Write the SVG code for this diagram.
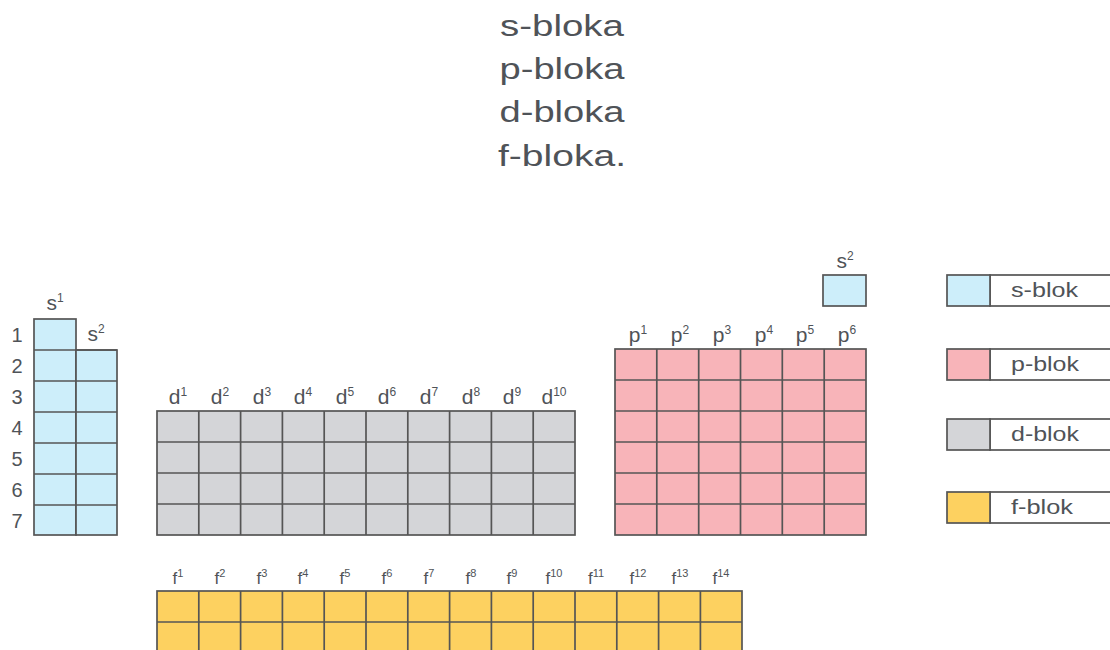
<svg xmlns="http://www.w3.org/2000/svg" width="1110" height="650" viewBox="0 0 1110 650">
<style>
text{font-family:"Liberation Sans",Arial,sans-serif;fill:#4f5358}
.title{font-size:29px;text-anchor:middle}
.lbl{font-size:21px;text-anchor:middle}
.fl{font-size:17px;text-anchor:middle}
.num{font-size:20px;text-anchor:middle}
.leg{font-size:20px}
.s{fill:#cdeefa}
.p{fill:#f8b4b9}
.d{fill:#d4d5d8}
.f{fill:#fdd160}
.w{fill:#ffffff}
.bx{stroke:#555555;stroke-width:1.7}
.gl{stroke:#555555;stroke-width:1.7;fill:none}
</style>
<g id="titles">
<text class="title" x="562" y="36" textLength="124" lengthAdjust="spacingAndGlyphs">s-bloka</text>
<text class="title" x="562" y="79" textLength="125" lengthAdjust="spacingAndGlyphs">p-bloka</text>
<text class="title" x="562" y="122" textLength="125" lengthAdjust="spacingAndGlyphs">d-bloka</text>
<text class="title" x="562" y="166" textLength="128" lengthAdjust="spacingAndGlyphs">f-bloka.</text>
</g>
<g id="s-block">
<rect class="s bx" x="34" y="319" width="42" height="216"/>
<rect class="s bx" x="76" y="350" width="41" height="185"/>
<path class="gl" d="M34 350H117M34 381H117M34 412H117M34 443H117M34 474H117M34 505H117"/>
<text class="lbl" x="55" y="310">s<tspan font-size="12" dy="-8">1</tspan></text>
<text class="lbl" x="96" y="341">s<tspan font-size="12" dy="-8">2</tspan></text>
<text class="num" x="17" y="342">1</text>
<text class="num" x="17" y="373">2</text>
<text class="num" x="17" y="404">3</text>
<text class="num" x="17" y="435">4</text>
<text class="num" x="17" y="466">5</text>
<text class="num" x="17" y="497">6</text>
<text class="num" x="17" y="528">7</text>
</g>
<g id="d-block">
<rect class="d bx" x="157" y="411" width="418" height="124"/>
<path class="gl" d="M198.8 411V535M240.6 411V535M282.4 411V535M324.2 411V535M366 411V535M407.8 411V535M449.6 411V535M491.4 411V535M533.2 411V535M157 442H575M157 473H575M157 504H575"/>
<text class="lbl" x="178" y="404">d<tspan font-size="12" dy="-8">1</tspan></text>
<text class="lbl" x="220" y="404">d<tspan font-size="12" dy="-8">2</tspan></text>
<text class="lbl" x="262" y="404">d<tspan font-size="12" dy="-8">3</tspan></text>
<text class="lbl" x="303" y="404">d<tspan font-size="12" dy="-8">4</tspan></text>
<text class="lbl" x="345" y="404">d<tspan font-size="12" dy="-8">5</tspan></text>
<text class="lbl" x="387" y="404">d<tspan font-size="12" dy="-8">6</tspan></text>
<text class="lbl" x="429" y="404">d<tspan font-size="12" dy="-8">7</tspan></text>
<text class="lbl" x="471" y="404">d<tspan font-size="12" dy="-8">8</tspan></text>
<text class="lbl" x="512" y="404">d<tspan font-size="12" dy="-8">9</tspan></text>
<text class="lbl" x="554" y="404">d<tspan font-size="12" dy="-8">10</tspan></text>
</g>
<g id="p-block">
<rect class="p bx" x="615" y="349" width="251" height="186"/>
<path class="gl" d="M656.8 349V535M698.7 349V535M740.5 349V535M782.3 349V535M824.2 349V535M615 380H866M615 411H866M615 442H866M615 473H866M615 504H866"/>
<text class="lbl" x="638" y="342">p<tspan font-size="12" dy="-8">1</tspan></text>
<text class="lbl" x="680" y="342">p<tspan font-size="12" dy="-8">2</tspan></text>
<text class="lbl" x="722" y="342">p<tspan font-size="12" dy="-8">3</tspan></text>
<text class="lbl" x="764" y="342">p<tspan font-size="12" dy="-8">4</tspan></text>
<text class="lbl" x="805" y="342">p<tspan font-size="12" dy="-8">5</tspan></text>
<text class="lbl" x="847" y="342">p<tspan font-size="12" dy="-8">6</tspan></text>
</g>
<g id="he-box">
<rect class="s bx" x="823" y="275" width="43" height="31"/>
<text class="lbl" x="845" y="268">s<tspan font-size="12" dy="-8">2</tspan></text>
</g>
<g id="f-block">
<rect class="f bx" x="157" y="591" width="585" height="93"/>
<path class="gl" d="M198.8 591V684M240.6 591V684M282.4 591V684M324.2 591V684M366 591V684M407.8 591V684M449.6 591V684M491.4 591V684M533.2 591V684M575 591V684M616.8 591V684M658.6 591V684M700.4 591V684M157 622H742M157 653H742"/>
<text class="fl" x="178" y="584">f<tspan font-size="11" dy="-7">1</tspan></text>
<text class="fl" x="220" y="584">f<tspan font-size="11" dy="-7">2</tspan></text>
<text class="fl" x="262" y="584">f<tspan font-size="11" dy="-7">3</tspan></text>
<text class="fl" x="303" y="584">f<tspan font-size="11" dy="-7">4</tspan></text>
<text class="fl" x="345" y="584">f<tspan font-size="11" dy="-7">5</tspan></text>
<text class="fl" x="387" y="584">f<tspan font-size="11" dy="-7">6</tspan></text>
<text class="fl" x="429" y="584">f<tspan font-size="11" dy="-7">7</tspan></text>
<text class="fl" x="471" y="584">f<tspan font-size="11" dy="-7">8</tspan></text>
<text class="fl" x="512" y="584">f<tspan font-size="11" dy="-7">9</tspan></text>
<text class="fl" x="554" y="584">f<tspan font-size="11" dy="-7">10</tspan></text>
<text class="fl" x="596" y="584">f<tspan font-size="11" dy="-7">11</tspan></text>
<text class="fl" x="638" y="584">f<tspan font-size="11" dy="-7">12</tspan></text>
<text class="fl" x="680" y="584">f<tspan font-size="11" dy="-7">13</tspan></text>
<text class="fl" x="721" y="584">f<tspan font-size="11" dy="-7">14</tspan></text>
</g>
<g id="legend-s">
<rect class="w bx" x="990" y="275" width="130" height="31"/>
<rect class="s bx" x="947" y="275" width="43" height="31"/>
<text class="leg" x="1011" y="297" textLength="67" lengthAdjust="spacingAndGlyphs">s-blok</text>
</g>
<g id="legend-p">
<rect class="w bx" x="990" y="349" width="130" height="31"/>
<rect class="p bx" x="947" y="349" width="43" height="31"/>
<text class="leg" x="1011" y="371" textLength="68" lengthAdjust="spacingAndGlyphs">p-blok</text>
</g>
<g id="legend-d">
<rect class="w bx" x="990" y="419" width="130" height="31"/>
<rect class="d bx" x="947" y="419" width="43" height="31"/>
<text class="leg" x="1011" y="441" textLength="68" lengthAdjust="spacingAndGlyphs">d-blok</text>
</g>
<g id="legend-f">
<rect class="w bx" x="990" y="492" width="130" height="31"/>
<rect class="f bx" x="947" y="492" width="43" height="31"/>
<text class="leg" x="1011" y="514" textLength="62" lengthAdjust="spacingAndGlyphs">f-blok</text>
</g>
</svg>
